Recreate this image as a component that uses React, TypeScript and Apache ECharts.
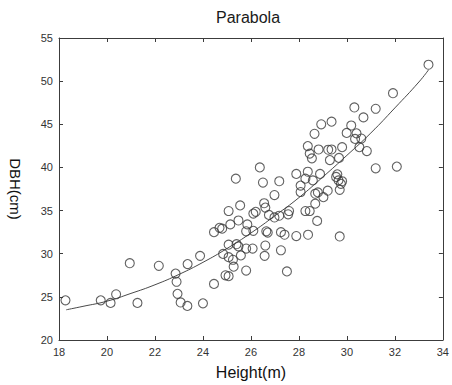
import React, { useEffect, useRef } from "react";
import * as echarts from "echarts";

const heightM = [
  18.27, 19.74, 20.15, 20.38, 20.95, 21.27, 22.16, 22.86, 22.9, 22.94,
  23.07, 23.35, 23.36, 23.88, 24.0, 24.46, 24.46, 24.69, 24.8, 24.84,
  24.94, 25.07, 25.07, 25.25, 25.28, 25.07, 25.4, 25.48, 25.58, 25.8,
  26.07, 26.6, 25.8, 25.14, 25.48, 25.85, 25.8, 26.1, 26.64, 26.7,
  25.07, 25.55, 26.1, 26.2, 26.75, 26.98, 27.18, 27.55, 27.59, 28.27,
  28.45, 28.76, 27.25, 27.4, 27.89, 28.38, 29.7, 27.25, 26.57, 27.5,
  26.55, 26.6, 25.37, 26.5, 27.18, 26.98, 26.37, 28.07, 28.07, 28.68,
  28.79, 29.02, 29.2, 28.68, 29.7, 29.55, 29.65, 29.75, 29.6, 29.8,
  27.89, 28.37, 28.88, 28.27, 28.58, 28.37, 28.45, 28.54, 28.82, 29.22,
  29.36, 29.29, 29.67, 29.8, 28.65, 28.93, 29.36, 29.99, 30.4, 30.18,
  30.34, 30.6, 30.52, 30.83, 30.31, 31.2, 30.69, 31.92, 33.4, 31.2,
  32.08,
];
const dbhCm = [
  24.6, 24.6, 24.3, 25.3, 28.9, 24.3, 28.6, 27.7, 26.75, 25.35,
  24.35, 23.95, 28.8, 29.75, 24.25, 26.5, 32.5, 33.0, 32.9, 29.98,
  27.5, 27.4, 29.6, 29.3, 28.5, 31.05, 31.1, 30.85, 29.8, 30.6,
  30.6, 30.95, 28.05, 33.4, 33.85, 33.4, 32.6, 32.65, 32.6, 32.45,
  34.95, 35.6, 34.65, 34.85, 34.5, 34.2, 34.4, 34.57, 34.95, 34.95,
  34.95, 33.8, 32.5, 32.2, 32.05, 32.2, 32.0, 30.4, 29.75, 27.95,
  35.85, 35.35, 38.7, 38.25, 38.4, 36.8, 40.0, 37.9, 37.15, 36.95,
  37.1, 36.55, 37.3, 35.8, 37.4, 38.9, 38.5, 38.1, 39.2, 38.4,
  39.25, 39.5, 39.25, 38.7, 38.5, 42.47, 41.6, 41.05, 42.08, 42.05,
  42.08, 40.85, 41.1, 42.35, 43.9, 45.0, 45.3, 44.0, 43.95, 44.86,
  43.3, 43.35, 42.35, 41.9, 46.95, 46.8, 45.8, 48.6, 51.9, 39.9,
  40.1,
];

// Fitted parabola, sampled from the reference curve
const curveX = [18.3, 19, 20, 21, 22, 23, 24, 25, 26, 27, 28, 29, 30, 31, 32, 33, 33.4];
const curveY = [23.5, 23.9, 24.5, 25.4, 26.4, 27.6, 29.0, 30.6, 32.4, 34.4, 36.5, 38.9, 41.4, 44.0, 46.9, 49.9, 51.3];

const FONT = 'Arial, "Liberation Sans", sans-serif';

export default function App() {
  const ref = useRef<HTMLDivElement>(null);
  useEffect(() => {
    document.body.style.margin = "0";
    const chart = echarts.init(ref.current!, null, { renderer: "svg" });
    const lineColor = "#3c3c3c";
    const axisLine = { show: true, lineStyle: { color: lineColor, width: 1 } };
    const axisTick = { show: true, inside: true, length: 4, lineStyle: { color: lineColor, width: 1 } };
    const axisLabel = { color: "#333", fontSize: 11, fontFamily: FONT, margin: 6 };
    const nameStyle = { color: "#111", fontSize: 15, fontFamily: FONT };
    const points = heightM.map((h, i) => [h, dbhCm[i]]);
    const curve = curveX.map((x, i) => [x, curveY[i]]);
    chart.setOption({
      animation: false,
      backgroundColor: "#fff",
      graphic: [
        {
          type: "text",
          x: 248,
          y: 17,
          style: {
            text: "Parabola",
            fontSize: 16,
            fontFamily: FONT,
            fill: "#1a1a1a",
            align: "center",
            verticalAlign: "middle",
          },
        },
      ],
      grid: { left: 55, top: 38, width: 392, height: 306, containLabel: false },
      xAxis: [
        {
          type: "value",
          position: "bottom",
          min: 18,
          max: 34,
          interval: 2,
          axisLine,
          axisTick,
          axisLabel,
          splitLine: { show: false },
          name: "Height(m)",
          nameLocation: "middle",
          nameGap: 24,
          nameTextStyle: { ...nameStyle, fontSize: 16 },
        },
        {
          type: "value",
          position: "top",
          min: 18,
          max: 34,
          interval: 2,
          axisLine,
          axisTick,
          axisLabel: { show: false },
          splitLine: { show: false },
        },
      ],
      yAxis: [
        {
          type: "value",
          position: "left",
          min: 20,
          max: 55,
          interval: 5,
          axisLine,
          axisTick,
          axisLabel,
          splitLine: { show: false },
          name: "DBH(cm)",
          nameLocation: "middle",
          nameGap: 36,
          nameRotate: -90,
          nameTextStyle: nameStyle,
        },
        {
          type: "value",
          position: "right",
          min: 20,
          max: 55,
          interval: 5,
          axisLine,
          axisTick,
          axisLabel: { show: false },
          splitLine: { show: false },
        },
      ],
      series: [
        {
          type: "line",
          data: curve,
          smooth: true,
          showSymbol: false,
          symbol: "none",
          lineStyle: { color: "#4a4a4a", width: 1 },
          z: 1,
        },
        {
          type: "scatter",
          data: points,
          symbol: "circle",
          symbolSize: 9,
          itemStyle: { color: "rgba(255,255,255,0)", borderColor: "#3a3a3a", borderWidth: 1.1 },
          z: 2,
        },
      ],
    });
    return () => chart.dispose();
  }, []);
  return <div ref={ref} style={{ width: 452, height: 385 }} />;
}
